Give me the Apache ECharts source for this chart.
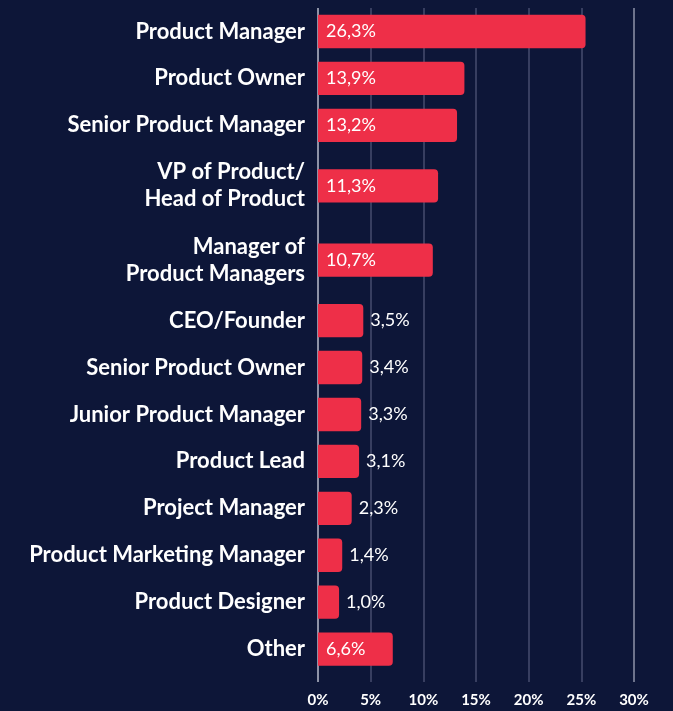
<!DOCTYPE html>
<html>
<head>
<meta charset="utf-8">
<script src="https://cdn.jsdelivr.net/npm/echarts@6/dist/echarts.min.js"></script>
<style>
  html, body { margin: 0; padding: 0; background: #0d1638; }
  #chart { width: 673px; height: 711px; }
</style>
</head>
<body>
<div id="chart"></div>
<script>
// roles, top to bottom
const categories = [
  'Product Manager',
  'Product Owner',
  'Senior Product Manager',
  'VP of Product/\nHead of Product',
  'Manager of\nProduct Managers',
  'CEO/Founder',
  'Senior Product Owner',
  'Junior Product Manager',
  'Product Lead',
  'Project Manager',
  'Product Marketing Manager',
  'Product Designer',
  'Other'
]
// printed shares (%)
const shares = [26.3, 13.9, 13.2, 11.3, 10.7, 3.5, 3.4, 3.3, 3.1, 2.3, 1.4, 1.0, 6.6]
// bar lengths as drawn against the axis (%)
const barLengths = [25.4, 13.9, 13.2, 11.4, 10.9, 4.3, 4.2, 4.1, 3.9, 3.2, 2.3, 2.0, 7.1]
const xTicks = [0, 5, 10, 15, 20, 25, 30]

// two-line labels get taller rows
const rowWeights = categories.map(c => (c.indexOf('\n') >= 0 ? 1.58 : 1))
const rowPos = []
let acc = 0
rowWeights.forEach(w => {
  rowPos.push(acc + w / 2)
  acc += w
})
const totalRows = acc

const chart = echarts.init(document.getElementById('chart'))

chart.setOption({
  backgroundColor: '#0d1638',
  animation: false,
  grid: {
    left: 318,
    right: 39,
    top: 8,
    bottom: 29,
    containLabel: false,
    outerBoundsMode: 'none'
  },
  xAxis: {
    type: 'value',
    min: xTicks[0],
    max: xTicks[xTicks.length - 1],
    interval: 5,
    axisLine: { show: false },
    axisTick: { show: false },
    axisLabel: {
      formatter: '{value}%',
      color: '#ffffff',
      fontFamily: 'Lato',
      fontWeight: 'bold',
      fontSize: 15,
      margin: 11
    },
    splitLine: {
      show: true,
      lineStyle: {
        color: ['#b9bccb', '#464c6e', '#464c6e', '#464c6e', '#464c6e', '#464c6e', '#8e93a8'],
        width: 1.5
      }
    }
  },
  yAxis: [
    {
      type: 'value',
      inverse: true,
      min: 0,
      max: totalRows + 0.2,
      axisLine: { show: false },
      axisTick: { show: false },
      splitLine: { show: false },
      axisLabel: {
        customValues: rowPos,
        formatter: function (val) {
          let best = 0
          rowPos.forEach((p, i) => {
            if (Math.abs(p - val) < Math.abs(rowPos[best] - val)) best = i
          })
          return categories[best]
        },
        color: '#ffffff',
        fontFamily: 'Lato',
        fontWeight: 'bold',
        fontSize: 22,
        lineHeight: 27,
        margin: 13
      }
    }
  ],
  series: [
    {
      type: 'custom',
      data: barLengths.map((v, i) => [v, rowPos[i], i]),
      encode: { x: 0, y: 1 },
      renderItem: function (params, api) {
        const i = api.value(2)
        const start = api.coord([0, api.value(1)])
        const end = api.coord([api.value(0), api.value(1)])
        const h = api.size([0, 0.71])[1]
        const inside = shares[i] >= 5
        return {
          type: 'rect',
          shape: {
            x: start[0],
            y: start[1] - h / 2,
            width: end[0] - start[0],
            height: h,
            r: [0, 4, 4, 0]
          },
          style: { fill: '#ee2f48' },
          textContent: {
            style: {
              text: shares[i].toFixed(1).replace('.', ',') + '%',
              fill: '#ffffff',
              fontFamily: 'Lato',
              fontSize: 18
            }
          },
          textConfig: {
            position: inside ? 'insideLeft' : 'right',
            distance: inside ? 8 : 7
          }
        }
      }
    }
  ]
})
</script>
</body>
</html>
